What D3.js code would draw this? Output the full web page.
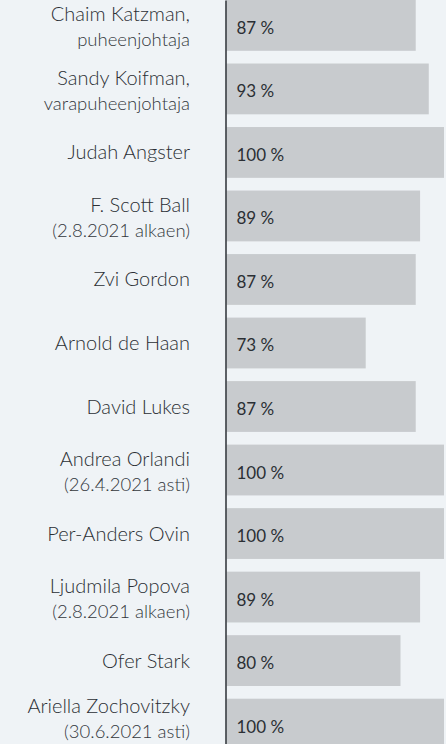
<!DOCTYPE html>
<html>
<head>
<meta charset="utf-8">
<script src="https://cdn.jsdelivr.net/npm/d3@7"></script>
<style>
  html, body { margin: 0; padding: 0; background: #eff3f6; }
  svg { display: block; }
</style>
</head>
<body>
<script>
// board members and attendance
var names = ["Chaim Katzman,", "Sandy Koifman,", "Judah Angster", "F. Scott Ball", "Zvi Gordon",
             "Arnold de Haan", "David Lukes", "Andrea Orlandi", "Per-Anders Ovin",
             "Ljudmila Popova", "Ofer Stark", "Ariella Zochovitzky"];
var notes = ["puheenjohtaja", "varapuheenjohtaja", "", "(2.8.2021 alkaen)", "",
             "", "", "(26.4.2021 asti)", "", "(2.8.2021 alkaen)", "", "(30.6.2021 asti)"];
var shares = [87, 93, 100, 89, 87, 73, 87, 100, 100, 89, 80, 100];
// bar lengths as drawn in the original (the 73 % bar is drawn shorter there)
var barLengths = [87, 93, 100, 89, 87, 64, 87, 100, 100, 89, 80, 100];

function init(){
    var w = 446;
    var h = 744;
    var axisX = 225.5;

    var svg = d3.select("body")
                .append("svg")
                .attr("width", w)
                .attr("height", h);

    var yScale = d3.scaleBand()
                    .domain(d3.range(names.length))
                    .range([0, 749.5])
                    .paddingInner(0.2)
                    .paddingOuter(0);

    var xScale = d3.scaleLinear()
                    .domain([0, 100])
                    .range([axisX + 1, w - 2]);

    //bars
    svg.selectAll("rect.bar")
        .data(barLengths)
        .enter()
        .append("rect")
        .attr("class", "bar")
        .attr("x", xScale(0))
        .attr("y", function(d, i){ return yScale(i); })
        .attr("width", function(d){ return xScale(d) - xScale(0); })
        .attr("height", yScale.bandwidth())
        .attr("fill", "#c8cbce");

    //value labels inside bars
    svg.selectAll("text.val")
        .data(shares)
        .enter()
        .append("text")
        .attr("class", "val")
        .attr("x", xScale(0) + 10)
        .attr("y", function(d, i){ return yScale(i) + yScale.bandwidth() / 2 + 8.5; })
        .attr("font-family", "Lato, sans-serif")
        .attr("font-size", "17px")
        .attr("fill", "#2b2f34")
        .text(function(d){ return d + " %"; });

    //name labels, one or two lines
    var labels = svg.selectAll("g.name")
        .data(names)
        .enter()
        .append("g")
        .attr("class", "name")
        .attr("transform", function(d, i){
            var cy = yScale(i) + yScale.bandwidth() / 2;
            // keep the second line inside the picture
            if (notes[i] && cy + 21 > h - 6) cy = h - 6 - 21;
            return "translate(190," + cy + ")";
        });

    labels.append("text")
        .attr("text-anchor", "end")
        .attr("y", function(d, i){ return notes[i] ? -4 : 7; })
        .attr("font-family", "Lato, sans-serif")
        .attr("font-weight", 300)
        .attr("font-size", "20px")
        .attr("fill", "#2b2f34")
        .text(function(d){ return d; });

    labels.filter(function(d, i){ return notes[i] !== ""; })
        .append("text")
        .attr("text-anchor", "end")
        .attr("y", 21)
        .attr("font-family", "Lato, sans-serif")
        .attr("font-weight", 300)
        .attr("font-size", "18.5px")
        .attr("fill", "#33373c")
        .text(function(d){ return notes[names.indexOf(d)]; });

    // vertical axis line
    var yAxis = d3.axisLeft(yScale)
        .tickSize(0)
        .tickSizeOuter(0)
        .tickFormat("");

    svg.append("g")
        .attr("transform", "translate(" + axisX + ",0)")
        .call(yAxis)
        .select(".domain")
        .attr("stroke", "#2b2f34")
        .attr("stroke-width", 1.5);
}
window.onload = init;
</script>
</body>
</html>
